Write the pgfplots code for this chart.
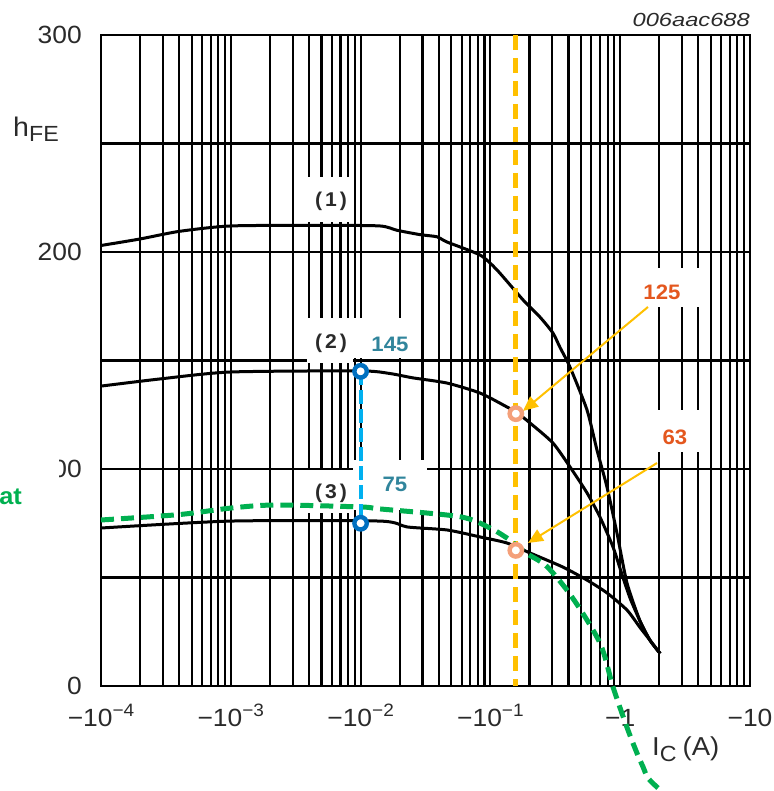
\documentclass[border=0pt]{standalone}
\usepackage{fontspec}
\setmainfont{Liberation Sans}[FakeStretch=1.06]
\usepackage{pgfplots}
\pgfplotsset{compat=1.18}
\usetikzlibrary{arrows.meta}
\definecolor{gold}{HTML}{FFC000}
\definecolor{xgreen}{HTML}{00B050}
\definecolor{lblue}{HTML}{00B0F0}
\definecolor{dblue}{HTML}{0070C0}
\definecolor{tealc}{HTML}{31859C}
\definecolor{salmon}{HTML}{F4A07A}
\definecolor{redor}{HTML}{E4571E}
\definecolor{lab}{HTML}{2A2A2A}
\newcommand\fs[1]{\fontsize{#1}{#1}\selectfont}
\newcommand\sups[1]{\raisebox{10bp}{\fs{18}#1}}
\begin{document}
\begin{tikzpicture}
\useasboundingbox (-101bp,-105bp) rectangle (673bp,686bp);
\begin{axis}[
  at={(0,0)}, anchor=south west,
  scale only axis, width=649bp, height=651bp,
  xmode=log, xmin=1e-4, xmax=10,
  ymin=0, ymax=300,
  xtick={1e-4,1e-3,1e-2,1e-1,1,10},
  xticklabels={{−10\sups{−4}},{−10\sups{−3}},{−10\sups{−2}},{−10\sups{−1}},{−1},{−10}},
  minor xtick={},
  ytick={0,100,200,300},
  yticklabels={0,100,200,300},
  grid=none,
  axis line style={black, line width=2.1bp},
  major tick length=0pt, minor tick length=0pt,
  clip=false,
  xticklabel style={font=\fs{25}, text=lab, anchor=base, yshift=-40bp, inner sep=0pt},
  yticklabel style={font=\fs{25}, text=lab, anchor=east, inner sep=0pt, xshift=-19bp},
]
% grid lines
\pgfplotsinvokeforeach{1e-4,2e-4,3e-4,4e-4,5e-4,6e-4,7e-4,8e-4,9e-4,
               1e-3,2e-3,3e-3,4e-3,5e-3,6e-3,7e-3,8e-3,9e-3,
               1e-2,2e-2,3e-2,4e-2,5e-2,6e-2,7e-2,8e-2,9e-2,
               0.1,0.2,0.3,0.4,0.5,0.6,0.7,0.8,0.9,
               1,2,3,4,5,6,7,8,9}{
  \draw[black, line width=2.1bp] (axis cs:#1,0) -- (axis cs:#1,300);
}
\pgfplotsinvokeforeach{50,100,150,200,250}{
  \draw[black, line width=2.1bp] (axis cs:1e-4,#1) -- (axis cs:10,#1);
}
% white label boxes over the grid
\fill[white] (rel axis cs:0.3143,0.7127) rectangle (rel axis cs:0.3883,0.7819);
\fill[white] (rel axis cs:0.3174,0.4962) rectangle (rel axis cs:0.3883,0.5653);
\fill[white] (rel axis cs:0.3883,0.5038) rectangle (rel axis cs:0.4869,0.5653);
\fill[white] (rel axis cs:0.3174,0.2657) rectangle (rel axis cs:0.3883,0.3318);
\fill[white] (rel axis cs:0.3883,0.2704) rectangle (rel axis cs:0.5023,0.3472);
\fill[white] (rel axis cs:0.8182,0.5822) rectangle (rel axis cs:0.9230,0.6421);
\fill[white] (rel axis cs:0.8382,0.3594) rectangle (rel axis cs:0.9307,0.4240);

% curve (1)
\addplot[black, line width=3bp, smooth, tension=0.4] coordinates {
(1e-4,203) (2e-4,206) (4e-4,209.5) (1e-3,212) (0.005,212.3) (0.0141,212)
(0.0191,210) (0.0287,208) (0.0388,207) (0.0463,204.6) (0.0832,198.6)
(0.1125,191.7) (0.178,178) (0.241,170) (0.303,162.7) (0.344,156) (0.41,147)
(0.555,127.2) (0.662,108.8) (0.791,91.7) (0.944,70.5) (1.128,47.5)
(1.42,30) (1.7,21) (2.03,15)};
% curve (2)
\addplot[black, line width=3bp, smooth, tension=0.4] coordinates {
(1e-4,138.2) (2.85e-4,141.5) (1e-3,144.7) (0.01,145.2) (0.0168,144)
(0.0253,142) (0.0463,139.6) (0.0832,135) (0.134,128.6) (0.16,126)
(0.202,121.2) (0.303,112) (0.41,101) (0.555,89) (0.698,77.9) (0.881,64)
(1.05,50) (1.2,40) (1.42,30) (1.7,21) (2.03,15)};
% curve (3)
\addplot[black, line width=3bp, smooth, tension=0.4] coordinates {
(1e-4,72.8) (1e-3,76) (0.0141,76) (0.0228,73.3) (0.0463,71.9) (0.0832,68.7)
(0.134,65.9) (0.202,61.3) (0.362,54.8) (0.555,48.8) (0.791,42.9)
(1.128,35) (1.42,27) (1.7,21) (2.03,15)};

% orange vertical dashed line
\addplot[gold, line width=5bp, dash pattern=on 15bp off 8bp] coordinates {(0.157,300) (0.157,0)};
% green dashed curve
\addplot[xgreen, line width=5bp, dash pattern=on 13bp off 7bp, smooth, tension=0.5] coordinates {
(1e-4,76.5) (4e-4,79) (1e-3,82) (2.2e-3,83.4) (0.01,82.5) (0.0141,81.6)
(0.0583,78) (0.0993,72.8) (0.134,68.2) (0.157,65) (0.191,61) (0.273,55)
(0.425,41) (0.698,19.8) (0.881,-0.5) (1.127,-19) (1.346,-30.9) (1.50,-37.3)
(1.637,-42.4) (1.955,-47)};
% blue dashed vertical
\addplot[lblue, line width=4bp, dash pattern=on 14bp off 5bp] coordinates {(0.01,145) (0.01,75)};
% markers
\addplot[only marks, mark=*, mark size=6.2bp, mark options={fill=white, draw=dblue, line width=4.4bp}] coordinates {(0.01,145) (0.01,75)};
\addplot[only marks, mark=*, mark size=6.2bp, mark options={fill=white, draw=salmon, line width=4.4bp}] coordinates {(0.157,125.5) (0.157,62.5)};

% arrows
\draw[gold, line width=2bp, -{Triangle[length=15bp,width=13bp]}] (rel axis cs:0.8428,0.5822) -- (rel axis cs:0.6502,0.4224);
\draw[gold, line width=2bp, -{Triangle[length=15bp,width=13bp]}] (rel axis cs:0.8567,0.3425) -- (rel axis cs:0.6579,0.2197);

% labels
\node[text=lab, font=\bfseries\fs{20}, inner sep=0pt] at (rel axis cs:0.3544,0.7450) {(\hspace{3bp}1\hspace{3bp})};
\node[text=lab, font=\bfseries\fs{20}, inner sep=0pt] at (rel axis cs:0.3544,0.5269) {(\hspace{3bp}2\hspace{3bp})};
\node[text=lab, font=\bfseries\fs{20}, inner sep=0pt] at (rel axis cs:0.3544,0.2965) {(\hspace{3bp}3\hspace{3bp})};
\node[text=tealc, font=\bfseries\fs{21}, inner sep=0pt] at (rel axis cs:0.4453,0.5253) {145};
\node[text=tealc, font=\bfseries\fs{21}, inner sep=0pt] at (rel axis cs:0.4530,0.3103) {75};
\node[text=redor, font=\bfseries\fs{21}, inner sep=0pt] at (rel axis cs:0.8644,0.6052) {125};
\node[text=redor, font=\bfseries\fs{21}, inner sep=0pt] at (rel axis cs:0.8844,0.3825) {63};
\end{axis}
\fill[white] (-101bp,174bp) rectangle (-42bp,246bp);
\node[anchor=base east, text=xgreen, font=\bfseries\fs{24}, inner sep=0pt] at (-79bp,181bp) {at};
\node[anchor=base west, inner sep=0pt, text=lab] at (-88bp,549bp) {\fs{27}h\raisebox{-5bp}{\fs{22}FE}};
\node[anchor=base west, inner sep=0pt, text=lab] at (551bp,-69bp) {\fs{26}I\raisebox{-6bp}{\fs{22}C}\hspace{6bp}(A)};
\node[anchor=base east, inner sep=0pt, text=lab] at (649bp,659bp) {\scalebox{1.18}[1]{\itshape\fs{19}006aac688}};
\end{tikzpicture}
\end{document}
